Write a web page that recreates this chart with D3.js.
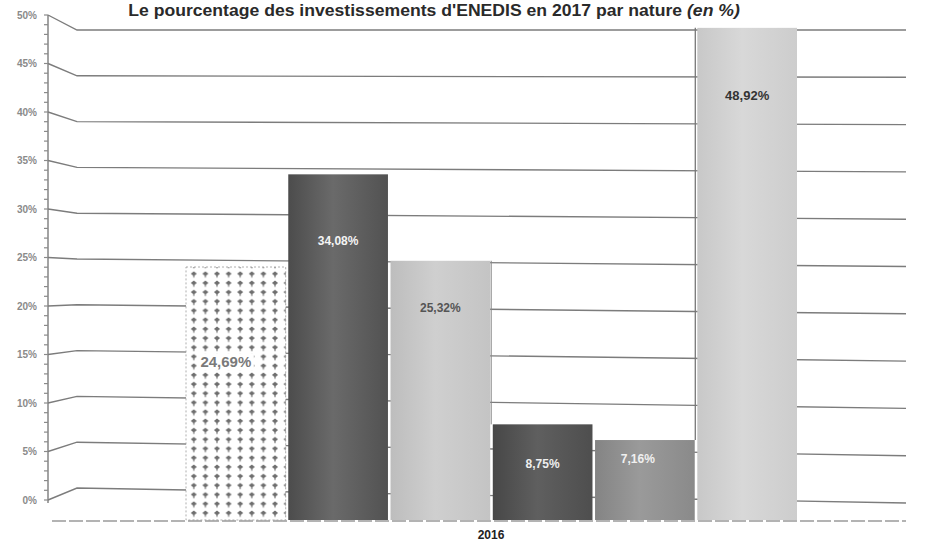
<!DOCTYPE html>
<html>
<head>
<meta charset="utf-8">
<script src="https://cdn.jsdelivr.net/npm/d3@7"></script>
<style>
  html, body { margin: 0; padding: 0; background: #fff; }
  svg { display: block; }
</style>
</head>
<body>
<svg id="chart" width="925" height="543"></svg>
<script>
// ---- data ----
const title = "Le pourcentage des investissements d'ENEDIS en 2017 par nature ";
const titleItalic = "(en %)";
const yearLabel = "2016";
const categories = ["Nature 1", "Nature 2", "Nature 3", "Nature 4", "Nature 5", "Nature 6"];
const values = [24.69, 34.08, 25.32, 8.75, 7.16, 48.92];
const valueLabels = ["24,69%", "34,08%", "25,32%", "8,75%", "7,16%", "48,92%"];
const tickValues = [0, 5, 10, 15, 20, 25, 30, 35, 40, 45, 50];
const tickLabels = ["0%", "5%", "10%", "15%", "20%", "25%", "30%", "35%", "40%", "45%", "50%"];
const minorTicks = d3.range(0, 51, 1);

// ---- styles ----
const barFills = [
  null,
  ["#4c4c4c", "#6a6a6a", "#525252"],
  ["#bdbdbd", "#cfcfcf", "#c4c4c4"],
  ["#474747", "#5f5f5f", "#4e4e4e"],
  ["#848484", "#9a9a9a", "#8a8a8a"],
  ["#c8c8c8", "#d8d8d8", "#cdcdcd"]
];
const labelColors = ["#7a7a7a", "#f4f4f4", "#555", "#eeeeee", "#f0f0f0", "#333"];
const labelSizes = [15, 12, 12, 12, 12, 13];
const labelY = [367, 245, 312, 468, 463, 100];
const labelDx = [-10, 0, 0, 0, -7, 0];

const svg = d3.select("#chart");
const defs = svg.append("defs");

// pattern for first bar
const pat = defs.append("pattern").attr("id", "dots")
  .attr("patternUnits", "userSpaceOnUse")
  .attr("width", 11.6).attr("height", 9.2)
  .attr("x", 188).attr("y", 270);
pat.append("rect").attr("width", 11.6).attr("height", 9.2).attr("fill", "#fff");
pat.append("path").attr("d", "M5.8,1.3 L8.8,3.7 L5.8,6.1 L2.8,3.7 Z").attr("fill", "#6e6e6e");
pat.append("rect").attr("x", 5.2).attr("y", 5).attr("width", 1.2).attr("height", 2.6).attr("fill", "#808080");

barFills.forEach((f, i) => {
  if (!f) return;
  const g = defs.append("linearGradient").attr("id", "g" + i)
    .attr("x1", "0%").attr("x2", "100%").attr("y1", "0%").attr("y2", "0%");
  g.append("stop").attr("offset", "0%").attr("stop-color", f[0]);
  g.append("stop").attr("offset", "45%").attr("stop-color", f[1]);
  g.append("stop").attr("offset", "100%").attr("stop-color", f[2]);
});

// ---- scales ----
const axisX = 48, wallX = 77, rightX = 906, floorY = 520;
const yAxis = d3.scaleLinear().domain([0, 50]).range([500, 15]);
const yBackL = d3.scaleLinear().domain([0, 50]).range([488, 30]);
const yBackR = d3.scaleLinear().domain([0, 50]).range([503, 30]);
const yBar = d3.scaleLinear().domain([0, 50]).range([510.7, 17.2]);
const x = d3.scaleBand().domain(categories).range([186, 797]).paddingInner(0.025);

// ---- gridlines (left wall + back wall) ----
const grid = svg.append("g").attr("stroke", "#7c7c7c").attr("stroke-width", 1.4).attr("fill", "none");
grid.selectAll("path").data(tickValues).join("path")
  .attr("d", v => `M${axisX},${yAxis(v)} L${wallX},${yBackL(v)} L${rightX},${yBackR(v)}`);

// floor front line
svg.append("line").attr("x1", 52).attr("x2", rightX).attr("y1", floorY + 1).attr("y2", floorY + 1)
  .attr("stroke", "#9a9a9a").attr("stroke-width", 1.3).attr("stroke-dasharray", "14,3");

// ---- y axis ----
const ax = svg.append("g");
ax.append("line").attr("x1", axisX).attr("x2", axisX)
  .attr("y1", yAxis(50)).attr("y2", yAxis(0) + 3)
  .attr("stroke", "#7c7c7c").attr("stroke-width", 1.4);
ax.selectAll(".minor").data(minorTicks).join("line").attr("class", "minor")
  .attr("x1", axisX - 4).attr("x2", axisX)
  .attr("y1", v => yAxis(v)).attr("y2", v => yAxis(v))
  .attr("stroke", "#8a8a8a").attr("stroke-width", 1.2);
ax.selectAll("text").data(tickValues).join("text")
  .attr("x", 37).attr("y", v => yAxis(v) + 3.5)
  .attr("text-anchor", "end")
  .attr("font-family", "Liberation Sans, Arial, sans-serif")
  .attr("font-size", 10).attr("font-weight", "bold")
  .attr("fill", "#8a8a8a")
  .text((v, i) => tickLabels[i]);

// ---- bars ----
const bars = svg.append("g");
bars.selectAll("rect").data(values).join("rect")
  .attr("x", (d, i) => x(categories[i]))
  .attr("y", d => yBar(d))
  .attr("width", x.bandwidth())
  .attr("height", d => floorY - yBar(d))
  .attr("fill", (d, i) => i === 0 ? "url(#dots)" : `url(#g${i})`)
  .attr("stroke", (d, i) => i === 0 ? "#999" : "none")
  .attr("stroke-width", 0.8)
  .attr("stroke-dasharray", (d, i) => i === 0 ? "2,2" : null);

// side edge lines (depth)
svg.append("line")
  .attr("x1", x(categories[5]) - 2).attr("x2", x(categories[5]) - 2)
  .attr("y1", yBar(values[5])).attr("y2", yBar(values[4]))
  .attr("stroke", "#777").attr("stroke-width", 1.3);
svg.append("line")
  .attr("x1", x(categories[2]) + x.bandwidth() + 1).attr("x2", x(categories[2]) + x.bandwidth() + 1)
  .attr("y1", yBar(values[2])).attr("y2", yBar(values[3]))
  .attr("stroke", "#888").attr("stroke-width", 1);

// white clearing behind first label
svg.append("rect")
  .attr("x", x(categories[0]) + x.bandwidth() / 2 + labelDx[0] - 28)
  .attr("y", labelY[0] - 13).attr("width", 56).attr("height", 16)
  .attr("fill", "#fff");

// ---- value labels ----
svg.append("g").selectAll("text").data(values).join("text")
  .attr("x", (d, i) => x(categories[i]) + x.bandwidth() / 2 + labelDx[i])
  .attr("y", (d, i) => labelY[i])
  .attr("text-anchor", "middle")
  .attr("font-family", "Liberation Sans, Arial, sans-serif")
  .attr("font-weight", "bold")
  .attr("font-size", (d, i) => labelSizes[i])
  .attr("fill", (d, i) => labelColors[i])
  .text((d, i) => valueLabels[i]);

// ---- category label ----
svg.append("text").attr("x", 491).attr("y", 539)
  .attr("text-anchor", "middle")
  .attr("font-family", "Liberation Sans, Arial, sans-serif")
  .attr("font-weight", "bold").attr("font-size", 12).attr("fill", "#222")
  .text(yearLabel);

// ---- title (slightly condensed to match the scan width) ----
const tg = svg.append("g");
const t = tg.append("text").attr("x", 0).attr("y", 0)
  .attr("text-anchor", "middle")
  .attr("font-family", "Liberation Sans, Arial, sans-serif")
  .attr("font-weight", "bold").attr("font-size", 17).attr("fill", "#2a2a2a");
t.append("tspan").text(title);
t.append("tspan").attr("font-style", "italic").text(titleItalic);
const tw = t.node().getComputedTextLength();
const k = tw > 0 ? 612 / tw : 1;
tg.attr("transform", `translate(434,16) scale(${k},1)`);
</script>
</body>
</html>
